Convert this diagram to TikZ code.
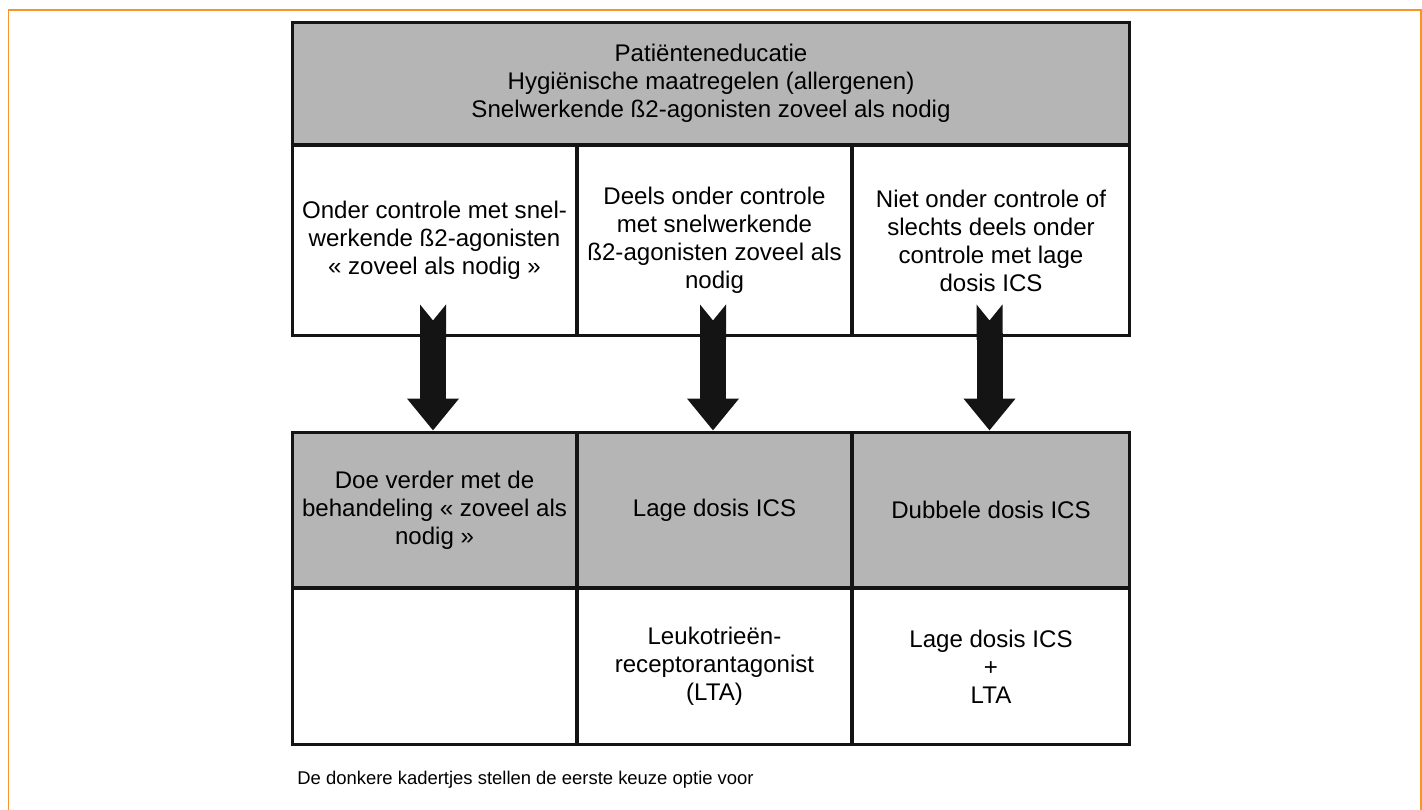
\documentclass[tikz,border=0pt]{standalone}
\usepackage{fontspec}
\setmainfont{Liberation Sans}
\usetikzlibrary{positioning,arrows.meta}
\definecolor{boxgray}{RGB}{181,181,181}
\definecolor{linegray}{RGB}{20,20,20}
\definecolor{frameorange}{RGB}{247,150,40}

\begin{document}
\begin{tikzpicture}[
    x = 0.02cm, y = -0.02cm,
    every node/.style = {align = center, inner sep = 0pt, font = \fontsize{13.7}{15.9}\selectfont},
    cell/.style = {draw = linegray, line width = 0.06cm, minimum height = #1},
    dark/.style = {fill = boxgray},
    col1/.style = {minimum width = 5.70cm},
    col2/.style = {minimum width = 5.50cm},
    col3/.style = {minimum width = 5.56cm},
    bigarrow/.style = {draw = linegray, line width = 0.52cm,
        {Triangle Cap[reversed, length = 0.32cm]}-{Triangle[width = 1cm, length = 0.64cm]}}
    ]
    \useasboundingbox (0,0) rectangle (1422,810);
    \draw[frameorange, line width = 0.04cm] (8.5,810) -- (8.5,10.5) -- (1420.5,10.5) -- (1420.5,810);

    % top box
    \node[cell = 2.46cm, dark, minimum width = 16.76cm] (top) at (711,83.5)
        {Patiënteneducatie\\Hygiënische maatregelen (allergenen)\\Snelwerkende ß2-agonisten zoveel als nodig};

    % control level
    \node[cell = 3.82cm, col1] (m1) at (434.5,240.5)
        {Onder controle met snel-\\werkende ß2-agonisten\\« zoveel als nodig »};
    \node[cell = 3.82cm, col2] (m2) at (714.5,240.5)
        {Deels onder controle\\met snelwerkende\\ß2-agonisten zoveel als\\nodig};
    \node[cell = 3.82cm, col3] (m3) at (991,240.5)
        {Niet onder controle of\\slechts deels onder\\controle met lage\\dosis ICS};

    % first choice
    \node[cell = 3.12cm, col1, dark] (b1) at (434.5,510)
        {Doe verder met de\\behandeling « zoveel als\\nodig »};
    \node[cell = 3.12cm, col2, dark] (b2) at (714.5,510) {Lage dosis ICS};
    \node[cell = 3.12cm, col3, dark] (b3) at (991,510) {Dubbele dosis ICS};

    % alternative
    \node[cell = 3.14cm, col1] (w1) at (434.5,666.5) {};
    \node[cell = 3.14cm, col2] (w2) at (714.5,666.5)
        {Leukotrieën-\\receptorantagonist\\(LTA)};
    \node[cell = 3.14cm, col3] (w3) at (991,666.5)
        {Lage dosis ICS\\+\\LTA};

    \foreach \i in {1,2,3}
        \draw[bigarrow] ([xshift = -0.03cm, yshift = 0.66cm]m\i.south) -- ([xshift = -0.03cm]b\i.north);

    \node[anchor = west, font = \fontsize{10.5}{12}\selectfont] (note) at (297,780)
        {De donkere kadertjes stellen de eerste keuze optie voor};
\end{tikzpicture}
\end{document}
